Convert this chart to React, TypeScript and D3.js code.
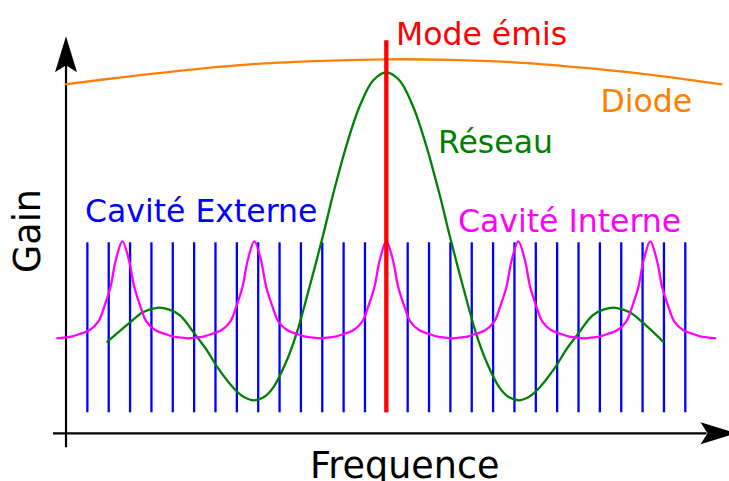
import React from 'react';
import * as d3 from 'd3';

// frequency in units of the external-cavity mode spacing, 0 = emitted mode
const externalModes = [
  -14, -13, -12, -11, -10, -9, -8, -7, -6, -5, -4, -3, -2, -1, 0, 1, 2, 3, 4, 5, 6, 7, 8, 9, 10, 11, 12,
  13, 14,
];
const externalGain = [21, 191];

// internal cavity (diode facets) resonances and one period of their profile
const internalPeaks = [-12.36, -6.18, 0, 6.18, 12.36];
const internalProfile: [number, number][] = [
  [-3.09, 95], [-2.67, 96], [-2.34, 97], [-1.92, 100], [-1.55, 103], [-1.12, 112], [-0.86, 126],
  [-0.56, 146], [-0.31, 173], [0, 192], [0.31, 173], [0.56, 146], [0.86, 126], [1.12, 112],
  [1.55, 103], [1.92, 100], [2.34, 97], [2.67, 96], [3.09, 95],
];

// grating response
const grating: [number, number][] = [
  [-13.1, 91], [-12.0, 111], [-11.4, 121], [-10.75, 125.5], [-10.2, 124], [-9.66, 118],
  [-8.96, 99], [-8.4, 83], [-7.94, 67], [-7.01, 42], [-6.65, 36], [-6.2, 33], [-5.75, 36],
  [-5.29, 46], [-4.7, 71], [-4.2, 100], [-3.6, 146], [-2.95, 199], [-2.48, 240], [-1.85, 289],
  [-1.23, 328], [-0.61, 353], [0, 361], [0.61, 353], [1.23, 328], [1.85, 289], [2.48, 240],
  [2.95, 199], [3.6, 146], [4.2, 100], [4.7, 71], [5.29, 46], [5.75, 36], [6.2, 33], [6.65, 36],
  [7.01, 42], [7.94, 67], [8.4, 83], [8.96, 99], [9.66, 118], [10.2, 124], [10.75, 125.5],
  [11.4, 121], [12.0, 111], [13.0, 91],
];

// diode gain curve
const diode: [number, number][] = [
  [-15.05, 349], [-12, 357], [-9, 364], [-6, 369.5], [-3, 372.5], [0, 374], [3, 373.5], [6, 371],
  [9, 366], [12, 359.5], [15.73, 349],
];

const emitted = { mode: 0, gain: [21, 393] };

const W = 729;
const H = 481;
const font = 'DejaVu Sans, Verdana, sans-serif';

const App = () => {
  const x = d3.scaleLinear().domain([-15, 16]).range([66, 728]);
  const y = d3.scaleLinear().domain([0, 420]).range([433.3, 13.3]);

  const line = d3
    .line<[number, number]>()
    .x((d) => x(d[0]))
    .y((d) => y(d[1]))
    .curve(d3.curveCatmullRom.alpha(0.5));

  const internal: [number, number][] = internalPeaks.flatMap((p, i) =>
    internalProfile.slice(i === 0 ? 0 : 1).map(([o, g]) => [p + o, g] as [number, number]),
  );

  const ax = x(-15);
  const ay = y(0);
  const arrowUp = `M${ax},${y(397)} L${ax + 11},${y(361)} L${ax},${y(368)} L${ax - 11},${y(361)} Z`;
  const arrowRight = `M${x(16.4)},${ay} L${x(16.4) - 36},${ay - 11} L${x(16.4) - 29},${ay} L${x(16.4) - 36},${ay + 11} Z`;

  return (
    <svg
      width={W}
      height={H}
      viewBox={`0 0 ${W} ${H}`}
      style={{ position: 'absolute', left: 0, top: 0, background: '#fff' }}
    >
      {/* axes */}
      <line x1={ax} x2={ax} y1={ay + 14} y2={y(370)} stroke="#000" strokeWidth={2.2} />
      <line x1={ax - 13} x2={x(16.4) - 30} y1={ay} y2={ay} stroke="#000" strokeWidth={2.2} />
      <path d={arrowUp} fill="#000" />
      <path d={arrowRight} fill="#000" />

      {/* external cavity modes */}
      <g stroke="#0000ff" strokeWidth={2.3}>
        {externalModes.map((m) => (
          <line key={m} x1={x(m)} x2={x(m)} y1={y(externalGain[0])} y2={y(externalGain[1])} />
        ))}
      </g>

      <path d={line(diode) ?? ''} fill="none" stroke="#ff7f00" strokeWidth={2.3} />
      <path d={line(grating) ?? ''} fill="none" stroke="#008000" strokeWidth={2.3} />
      <path d={line(internal) ?? ''} fill="none" stroke="#ff00ff" strokeWidth={2.3} />

      <line
        x1={x(emitted.mode)}
        x2={x(emitted.mode)}
        y1={y(emitted.gain[0])}
        y2={y(emitted.gain[1])}
        stroke="#ff0000"
        strokeWidth={4.3}
      />

      <g fontFamily={font} fontSize={31.5}>
        <text x={396} y={45} fill="#ff0000">Mode émis</text>
        <text x={600.5} y={111.7} fill="#ff7f00">Diode</text>
        <text x={438} y={153.3} fill="#008000">Réseau</text>
        <text x={85} y={221.5} fill="#0000ff">Cavité Externe</text>
        <text x={458} y={231.7} fill="#ff00ff">Cavité Interne</text>
      </g>
      <g fontFamily={font} fontSize={36.5} fill="#000">
        <text transform="translate(40,231) rotate(-90)" textAnchor="middle">Gain</text>
        <text x={310} y={478}>Frequence</text>
      </g>
    </svg>
  );
};

export default App;
